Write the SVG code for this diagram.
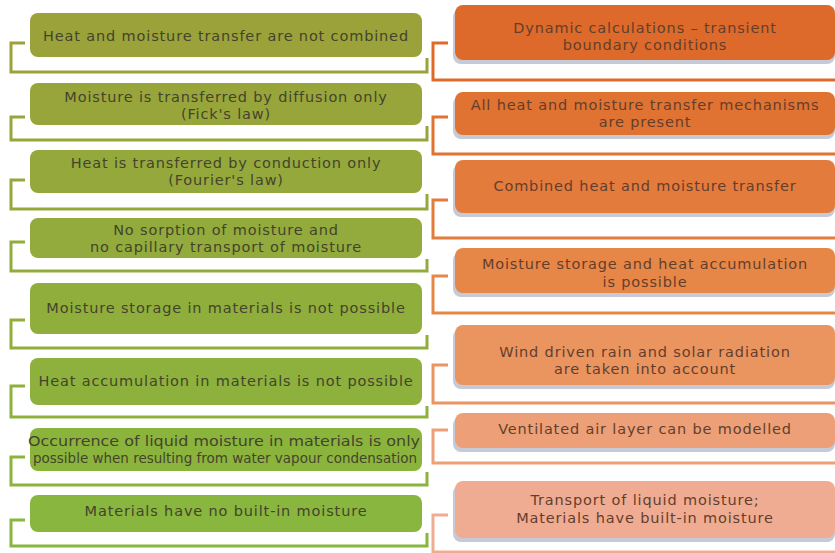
<svg xmlns="http://www.w3.org/2000/svg" width="835" height="553" viewBox="0 0 835 553">
<style>
  .lt { font-family: "DejaVu Sans", "Open Sans", sans-serif; font-size: 14.5px; letter-spacing: 0.85px; fill: #44442c; text-anchor: middle; }
  .rt { font-family: "DejaVu Sans", "Open Sans", sans-serif; font-size: 14.5px; letter-spacing: 0.85px; fill: #643e2c; text-anchor: middle; }
  .ln { letter-spacing: 0; }
  .br { fill: none; stroke-width: 3; stroke-linejoin: miter; }
  .sh { fill: #c6cad6; }
</style>
<rect width="835" height="553" fill="#ffffff"/>

<g id="connectors">
  <path class="br" stroke="#9ba23a" d="M25 43 H11 V72 H427 V58"/>
  <path class="br" stroke="#98a53b" d="M25 117 H11 V140 H427 V126"/>
  <path class="br" stroke="#95a83c" d="M25 180 H11 V209 H427 V194"/>
  <path class="br" stroke="#92ab3c" d="M25 242 H11 V271 H427 V259"/>
  <path class="br" stroke="#90ae3c" d="M25 320 H11 V348 H427 V335"/>
  <path class="br" stroke="#8db13c" d="M25 386 H11 V417 H427 V406"/>
  <path class="br" stroke="#8bb43d" d="M25 457 H11 V485 H427 V472"/>
  <path class="br" stroke="#88b63e" d="M25 520 H11 V546 H427 V533"/>

  <path class="br" stroke="#dd6a2a" d="M448 43 H433 V80 H835"/>
  <path class="br" stroke="#e07232" d="M448 117 H433 V154 H835"/>
  <path class="br" stroke="#e37b3c" d="M448 200 H433 V238 H835"/>
  <path class="br" stroke="#e68748" d="M448 276 H433 V313 H835"/>
  <path class="br" stroke="#ea9460" d="M448 365 H433 V403 H835"/>
  <path class="br" stroke="#eda077" d="M448 430 H433 V463 H835"/>
  <path class="br" stroke="#f0ac92" d="M448 515 H433 V552 H835"/>
</g>

<g id="l1"><rect x="30" y="13" width="392" height="44" rx="8" fill="#9ba23a"/>
  <text class="lt" x="226" y="41">Heat and moisture transfer are not combined</text></g>
<g id="l2"><rect x="30" y="83" width="392" height="42" rx="8" fill="#98a53b"/>
  <text class="lt" x="226" y="102">Moisture is transferred by diffusion only</text>
  <text class="lt" x="226" y="119">(Fick's law)</text></g>
<g id="l3"><rect x="30" y="150" width="392" height="43" rx="8" fill="#95a83c"/>
  <text class="lt" x="226" y="168">Heat is transferred by conduction only</text>
  <text class="lt" x="226" y="185">(Fourier's law)</text></g>
<g id="l4"><rect x="30" y="218" width="392" height="40" rx="8" fill="#92ab3c"/>
  <text class="lt" x="226" y="235">No sorption of moisture and</text>
  <text class="lt" x="226" y="252">no capillary transport of moisture</text></g>
<g id="l5"><rect x="30" y="283" width="392" height="51" rx="8" fill="#90ae3c"/>
  <text class="lt" x="226" y="313">Moisture storage in materials is not possible</text></g>
<g id="l6"><rect x="30" y="358" width="392" height="47" rx="8" fill="#8db13c"/>
  <text class="lt" x="226" y="386">Heat accumulation in materials is not possible</text></g>
<g id="l7"><rect x="30" y="428" width="392" height="43" rx="8" fill="#8bb43d"/>
  <text class="lt ln" x="224" y="446" textLength="392" lengthAdjust="spacingAndGlyphs">Occurrence of liquid moisture in materials is only</text>
  <text class="lt ln" x="225" y="463" textLength="384" lengthAdjust="spacingAndGlyphs">possible when resulting from water vapour condensation</text></g>
<g id="l8"><rect x="30" y="495" width="392" height="37" rx="8" fill="#88b63e"/>
  <text class="lt" x="226" y="516">Materials have no built-in moisture</text></g>

<g id="r1"><rect class="sh" x="453" y="9" width="382" height="55" rx="8"/>
  <rect x="455" y="5" width="380" height="55" rx="8" fill="#dd6a2a"/>
  <text class="rt" x="645" y="33">Dynamic calculations – transient</text>
  <text class="rt" x="645" y="50">boundary conditions</text></g>
<g id="r2"><rect class="sh" x="453" y="96" width="382" height="43" rx="8"/>
  <rect x="455" y="92" width="380" height="43" rx="8" fill="#e07232"/>
  <text class="rt" x="645" y="110">All heat and moisture transfer mechanisms</text>
  <text class="rt" x="645" y="127">are present</text></g>
<g id="r3"><rect class="sh" x="453" y="164" width="382" height="53" rx="8"/>
  <rect x="455" y="160" width="380" height="53" rx="8" fill="#e37b3c"/>
  <text class="rt" x="645" y="191">Combined heat and moisture transfer</text></g>
<g id="r4"><rect class="sh" x="453" y="252" width="382" height="45" rx="8"/>
  <rect x="455" y="248" width="380" height="45" rx="8" fill="#e68748"/>
  <text class="rt" x="645" y="269">Moisture storage and heat accumulation</text>
  <text class="rt" x="645" y="287">is possible</text></g>
<g id="r5"><rect class="sh" x="453" y="329" width="382" height="60" rx="8"/>
  <rect x="455" y="325" width="380" height="60" rx="8" fill="#ea9460"/>
  <text class="rt" x="645" y="357">Wind driven rain and solar radiation</text>
  <text class="rt" x="645" y="374">are taken into account</text></g>
<g id="r6"><rect class="sh" x="453" y="417" width="382" height="35" rx="8"/>
  <rect x="455" y="413" width="380" height="35" rx="8" fill="#eda077"/>
  <text class="rt" x="645" y="434">Ventilated air layer can be modelled</text></g>
<g id="r7"><rect class="sh" x="453" y="485" width="382" height="57" rx="8"/>
  <rect x="455" y="481" width="380" height="57" rx="8" fill="#f0ac92"/>
  <text class="rt" x="645" y="505">Transport of liquid moisture;</text>
  <text class="rt" x="645" y="523">Materials have built-in moisture</text></g>
</svg>
